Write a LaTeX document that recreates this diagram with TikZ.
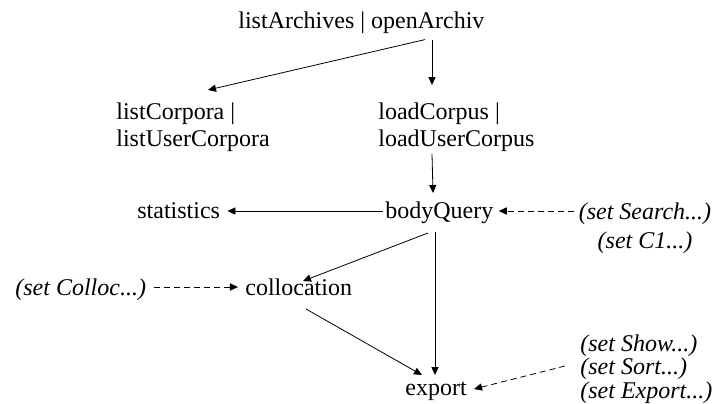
\documentclass[tikz,border=0pt]{standalone}
\usepackage{fontspec}
\setmainfont{Liberation Serif}
\usetikzlibrary{arrows.meta}

\begin{document}
\begin{tikzpicture}[x=0.5pt, y=-0.5pt, thin,
	lbl/.style={inner sep=0pt, font=\fontsize{12}{13.5}\selectfont},
	setlbl/.style={lbl, font=\fontsize{12}{13.5}\selectfont\itshape},
	arr/.style={-{Triangle[length=4pt,width=3.6pt]}},
	darr/.style={arr, dash pattern=on 3pt off 2pt}]

	\useasboundingbox (0,0) rectangle (720,403);

	\node[lbl, anchor=base west] (archiv) at (238,28) {listArchives | openArchiv};
	\node[lbl, anchor=north west, align=left] (corpora) at (116,102) {listCorpora |\\listUserCorpora};
	\node[lbl, anchor=north west, align=left] (load) at (378,102) {loadCorpus |\\loadUserCorpus};
	\node[lbl, anchor=base west] (stats) at (137,218) {statistics};
	\node[lbl, anchor=base west] (query) at (385,218) {bodyQuery};
	\node[setlbl, anchor=north, align=center, font=\fontsize{12}{14.5}\selectfont\itshape] (setsearch) at (645,202) {(set Search...)\\(set C1...)};
	\node[setlbl, anchor=base west] (setcolloc) at (15,295) {(set Colloc...)};
	\node[lbl, anchor=base west] (colloc) at (245,295) {collocation};
	\node[lbl, anchor=base west] (export) at (405,395) {export};
	\node[setlbl, anchor=north west, align=left, font=\fontsize{12}{11.8}\selectfont\itshape] (setshow) at (580,334) {(set Show...)\\(set Sort...)\\(set Export...)};

	\draw[arr] ([shift={(187,6)}]archiv.south west) -- ([shift={(92,-12)}]corpora.north west);
	\draw[arr] ([shift={(194,6)}]archiv.south west) -- ([shift={(54,-17)}]load.north west);
	\draw[arr] ([shift={(54,2)}]load.south west) -- ([shift={(48,-25)}]query.base west);
	\draw[arr] ([shift={(-2,-7)}]query.base west) -- ([shift={(7,-7)}]stats.base east);
	\draw[darr] ([shift={(-4,9)}]setsearch.north west) -- ([shift={(5,-7)}]query.base east);
	\draw[arr] ([shift={(43,15)}]query.base west) -- ([shift={(58,-14)}]colloc.base west);
	\draw[darr] ([shift={(8,-8)}]setcolloc.base east) -- ([shift={(-7,-8)}]colloc.base west);
	\draw[arr] ([shift={(61,14)}]colloc.base west) -- ([shift={(17,-20)}]export.base west);
	\draw[arr] ([shift={(50,14)}]query.base west) -- ([shift={(30,-20)}]export.base west);
	\draw[darr] ([shift={(-15,32)}]setshow.north west) -- ([shift={(7,-6)}]export.base east);

\end{tikzpicture}
\end{document}
